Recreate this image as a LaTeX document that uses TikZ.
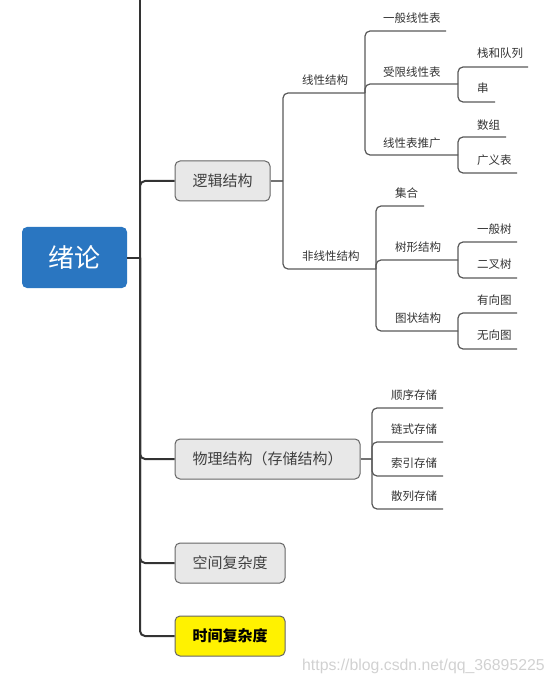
\documentclass[tikz,border=0pt]{standalone}
\usepackage{fontspec}
\setmainfont{Noto Sans CJK SC}
\newfontfamily\wmfont{Liberation Sans}
\begin{document}
\begin{tikzpicture}[x=1pt,y=-1pt,
  trunk/.style={draw=black!80,line width=2pt,rounded corners=5pt},
  sub/.style={draw=black!65,line width=1.2pt,rounded corners=5pt},
  topic/.style={draw=black!60,line width=1pt,fill=black!9,rounded corners=5pt,minimum height=40pt,inner sep=0pt,text=black!75,font=\fontsize{15}{18}\selectfont},
  lab/.style={anchor=west,inner sep=0pt,text=black!80,font=\fontsize{11.5}{13}\selectfont}]
\useasboundingbox (0,0) rectangle (554,684);
% root and main topics
\node[fill={rgb,255:red,42;green,118;blue,193},rounded corners=5pt,minimum width=105pt,minimum height=61pt,inner sep=0pt,text=white,font=\fontsize{26}{30}\selectfont] (root) at (74.5,257.5) {绪论};
\node[topic,minimum width=95pt] (logic) at (222.5,181) {逻辑结构};
\node[topic,minimum width=185pt] (phys) at (267.5,459) {物理结构（存储结构）};
\node[topic,minimum width=110pt] (space) at (230,563) {空间复杂度};
\node[topic,minimum width=110pt,fill=yellow,text=black,font=\fontsize{15}{18}\selectfont\bfseries] (time) at (230,636) {时间复杂度};
\coordinate (rootJ) at (140,257.5);
\coordinate (top) at (140,0);
\draw[trunk] (root.east) -- (rootJ);
\draw[trunk] (rootJ) -- (top);
\draw[trunk] (rootJ) |- (logic.west);
\draw[trunk] (rootJ) |- (phys.west);
\draw[trunk] (rootJ) |- (space.west);
\draw[trunk] (rootJ) |- (time.west);
% logic structure
\coordinate (logicJ) at (283,181);
\draw[sub,draw=black!55] (logic.east) -- (logicJ);
\node[lab] (lin) at (302,80) {线性结构};
\coordinate (linE) at (365,93);
\node[lab] (nlin) at (302,256) {非线性结构};
\coordinate (nlinE) at (376,269);
\draw[sub] (logicJ) |- (linE);
\draw[sub] (logicJ) |- (nlinE);
% linear
\node[lab] (gen) at (383,18) {一般线性表};
\coordinate (genE) at (446,31);
\node[lab] (lim) at (383,72) {受限线性表};
\coordinate (limE) at (458,84);
\node[lab] (ext) at (383,143) {线性表推广};
\coordinate (extE) at (458,155);
\draw[sub] (linE) |- (genE);
\draw[sub] (linE) |- (limE);
\draw[sub] (linE) |- (extE);
\node[lab] (stk) at (477,53) {栈和队列};
\coordinate (stkE) at (528,67);
\node[lab] (str) at (477,88) {串};
\coordinate (strE) at (495,102);
\draw[sub] (limE) |- (stkE);
\draw[sub] (limE) |- (strE);
\node[lab] (arr) at (477,125) {数组};
\coordinate (arrE) at (506,137);
\node[lab] (glist) at (477,160) {广义表};
\coordinate (glistE) at (517,173);
\draw[sub] (extE) |- (arrE);
\draw[sub] (extE) |- (glistE);
% non-linear
\node[lab] (set) at (395,193) {集合};
\coordinate (setE) at (424,206);
\node[lab] (tree) at (395,247) {树形结构};
\coordinate (treeE) at (458,260);
\node[lab] (graph) at (395,318) {图状结构};
\coordinate (graphE) at (458,331);
\draw[sub] (nlinE) |- (setE);
\draw[sub] (nlinE) |- (treeE);
\draw[sub] (nlinE) |- (graphE);
\node[lab] (gtree) at (477,229) {一般树};
\coordinate (gtreeE) at (517,242);
\node[lab] (btree) at (477,264) {二叉树};
\coordinate (btreeE) at (517,278);
\draw[sub] (treeE) |- (gtreeE);
\draw[sub] (treeE) |- (btreeE);
\node[lab] (dg) at (477,300) {有向图};
\coordinate (dgE) at (517,313);
\node[lab] (ug) at (477,335) {无向图};
\coordinate (ugE) at (517,349);
\draw[sub] (graphE) |- (dgE);
\draw[sub] (graphE) |- (ugE);
% physical
\coordinate (physJ) at (372,459);
\draw[sub,draw=black!55] (phys.east) -- (physJ);
\node[lab] (seq) at (391,395) {顺序存储};
\coordinate (seqE) at (443,408);
\node[lab] (lnk) at (391,429) {链式存储};
\coordinate (lnkE) at (443,442);
\node[lab] (idx) at (391,463) {索引存储};
\coordinate (idxE) at (443,476);
\node[lab] (hsh) at (391,496) {散列存储};
\coordinate (hshE) at (443,509);
\draw[sub] (physJ) |- (seqE);
\draw[sub] (physJ) |- (lnkE);
\draw[sub] (physJ) |- (idxE);
\draw[sub] (physJ) |- (hshE);
% watermark
\node[anchor=west,inner sep=0pt,text=black!18,font=\wmfont\fontsize{15.8}{17}\selectfont] (wm) at (302,666) {https://blog.csdn.net/qq\_36895225};
\end{tikzpicture}
\end{document}
